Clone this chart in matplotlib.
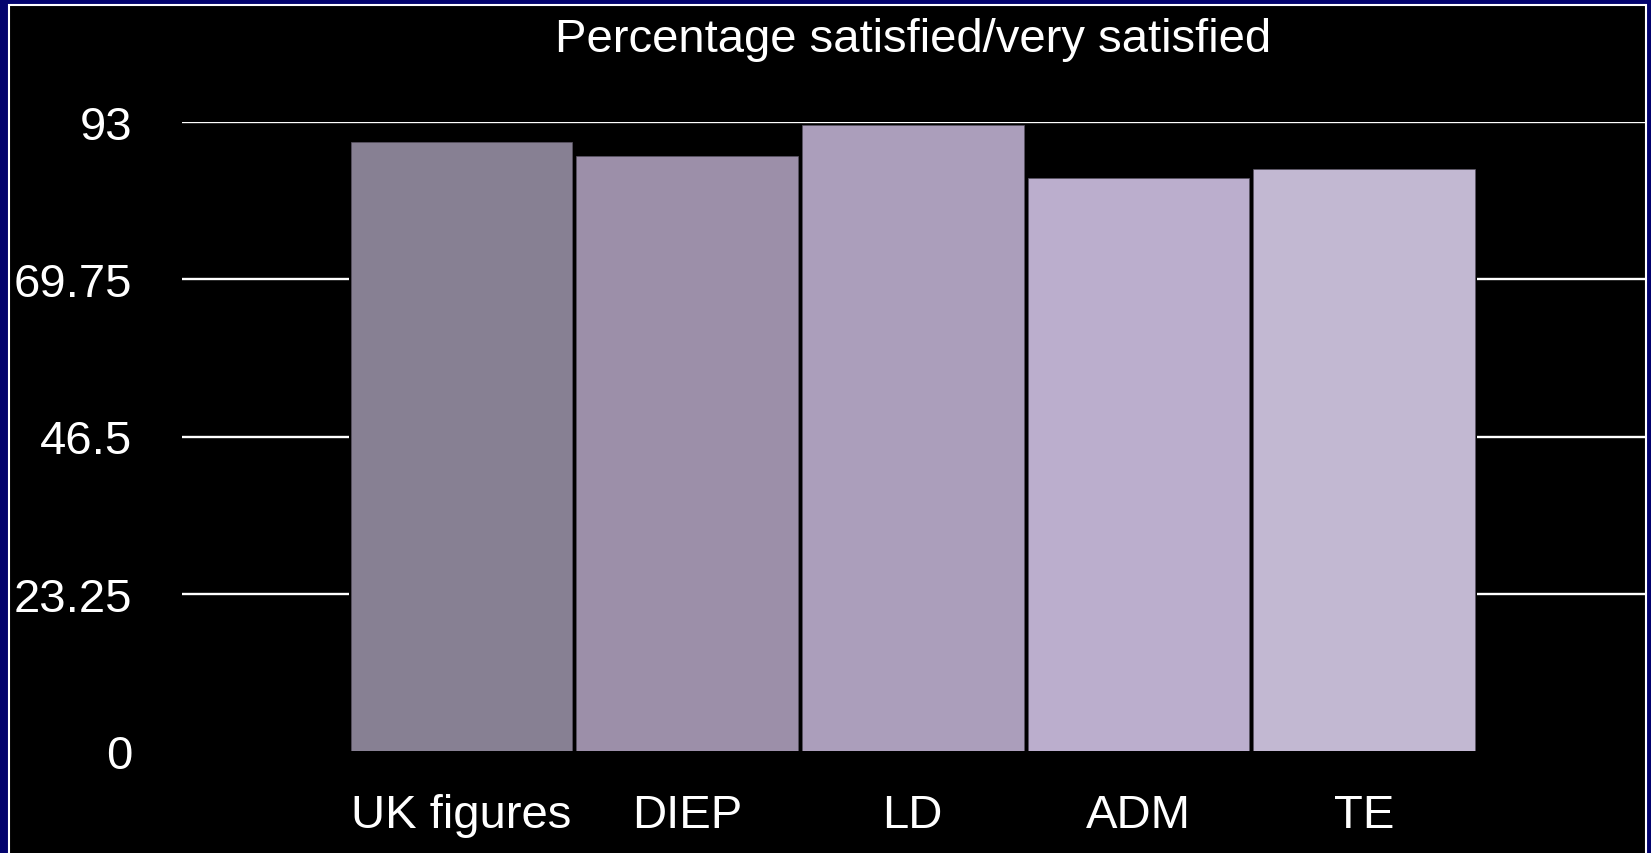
import matplotlib
matplotlib.use("Agg")
import matplotlib.pyplot as plt
from matplotlib.patches import Rectangle

plt.rcParams['font.family'] = ['Liberation Sans', 'DejaVu Sans']

categories = ["UK figures", "DIEP", "LD", "ADM", "TE"]
values = [90, 88, 92.5, 84.7, 86]
bar_colors = ["#878093", "#9c8fa9", "#ab9ebb", "#bbaecd", "#c2b8d2"]
yticks = [0, 23.25, 46.5, 69.75, 93]
ytick_labels = ["0", "23.25", "46.5", "69.75", "93"]
title = "Percentage satisfied/very satisfied"

W, H = 1651, 854
fig = plt.figure(figsize=(W / 100, H / 100), dpi=100)
fig.patch.set_facecolor("#03036e")

# black slide area with thin white frame
fig.patches.append(Rectangle((9 / W, -0.05), (1646 - 9) / W, 1.05 - 6 / H,
                             transform=fig.transFigure, facecolor="black",
                             edgecolor="white", linewidth=1.5, zorder=-1))

ax = fig.add_axes([182 / W, (H - 752) / H, (1646 - 182) / W, (752 - 123) / H])
ax.set_zorder(1)
ax.set_facecolor("none")

x = list(range(len(categories)))
# black backing so the gridlines don't show in the gaps between bars
ax.bar(x, values, width=1.0, color="black", linewidth=0, zorder=2)
ax.bar(x, values, width=0.982, color=bar_colors, edgecolor="#5a5464",
       linewidth=0.5, zorder=3)

for yv in yticks[1:]:
    ax.axhline(yv, color="white", linewidth=1.7, zorder=1)

ax.set_ylim(0, 93)
ax.set_xlim(-1.239, 5.25)
ax.set_yticks(yticks)
ax.set_yticklabels(ytick_labels)
ax.set_xticks(x)
ax.set_xticklabels(categories)
ax.tick_params(axis="y", length=0, pad=36, labelsize=34, labelcolor="white")
ax.tick_params(axis="x", length=0, pad=30, labelsize=34, labelcolor="white")
for s in ax.spines.values():
    s.set_visible(False)

fig.text(913.5 / W, (H - 52) / H, title, ha="center", va="baseline",
         fontsize=34, color="white", zorder=2)

fig.savefig("out.png", dpi=100, facecolor=fig.get_facecolor())
